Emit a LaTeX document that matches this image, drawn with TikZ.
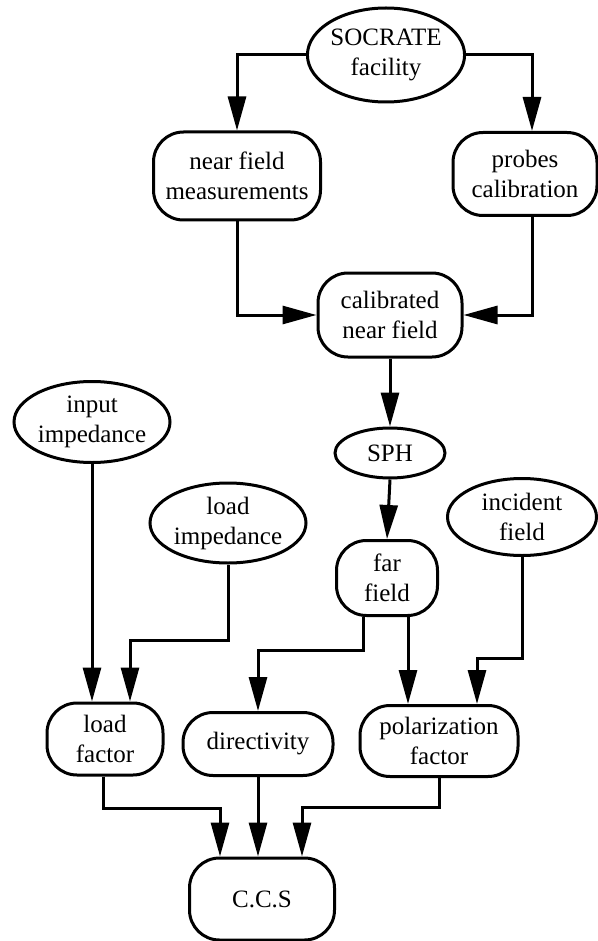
\documentclass[tikz,border=0pt]{standalone}
\usepackage{fontspec}
\newfontfamily\diagfont{LiberationSerif}[Extension=.ttf,UprightFont=*-Regular]
\usetikzlibrary{shapes.geometric,arrows.meta}

\begin{document}
\begin{tikzpicture}[x=0.5pt,y=-0.5pt,>={Triangle[length=17pt,width=9pt]}]

% --- Global TikZ Styles ---
\tikzset{
    ovalnode/.style={
        ellipse,
        draw=black,
        line width=1.5pt,
        inner sep=0pt,
        align=center,
        font=\diagfont\fontsize{12.5}{15}\selectfont
    },
    roundbox/.style={
        rectangle,
        draw=black,
        line width=1.5pt,
        rounded corners=15pt,
        inner sep=0pt,
        align=center,
        font=\diagfont\fontsize{12.5}{15}\selectfont
    },
    arrow/.style={
        ->,
        line width=1.5pt,
        draw=black
    }
}

\useasboundingbox (0,0) rectangle (598,941);

% ==================================================
% --- Measurement chain ---
% ==================================================

\node[ovalnode, minimum width=77.5pt, minimum height=47pt]
    (socrate) at (386,55) {SOCRATE\\facility};
\node[roundbox, minimum width=83.5pt, minimum height=44pt]
    (nearfield) at (237,176) {near field\\measurements};
\node[roundbox, minimum width=72pt, minimum height=41.5pt]
    (probes) at (525,174) {probes\\calibration};
\node[roundbox, minimum width=72pt, minimum height=42pt]
    (calibrated) at (390,315) {calibrated\\near field};
\node[ovalnode, minimum width=55pt, minimum height=25pt]
    (sph) at (390,453) {SPH};
\node[roundbox, minimum width=50.5pt, minimum height=37.5pt]
    (farfield) at (387,578) {far\\field};

% ==================================================
% --- Inputs ---
% ==================================================

\node[ovalnode, minimum width=78pt, minimum height=40.5pt]
    (input) at (92,422) {input\\impedance};
\node[ovalnode, minimum width=78pt, minimum height=40pt]
    (loadimp) at (228,523) {load\\impedance};
\node[ovalnode, minimum width=74.5pt, minimum height=38.5pt]
    (incident) at (522,517) {incident\\field};

% ==================================================
% --- Factors and result ---
% ==================================================

\node[roundbox, minimum width=58pt, minimum height=36pt]
    (loadfactor) at (105,739) {load\\factor};
\node[roundbox, minimum width=75pt, minimum height=31.5pt]
    (directivity) at (258,744) {directivity};
\node[roundbox, minimum width=79pt, minimum height=35.5pt]
    (polarization) at (439,741) {polarization\\factor};
\node[roundbox, minimum width=72.5pt, minimum height=41pt]
    (ccs) at (262,899) {C.C.S};

% Bends of the connectors
\coordinate (bendA) at (130,640);
\coordinate (bendB) at (258,650);
\coordinate (bendC) at (477,658);
\coordinate (bendD) at (220,808);
\coordinate (bendE) at (302,807);

% ==================================================
% --- Connectors ---
% ==================================================

\draw[arrow] (socrate.west) -| (nearfield.north);
\draw[arrow] (socrate.east) -| ([xshift=3.5pt]probes.north);
\draw[arrow] (nearfield.south) |- (calibrated.west);
\draw[arrow] ([xshift=3.5pt]probes.south) |- (calibrated.east);
\draw[arrow] (calibrated.south) -- (sph.north);
\draw[arrow] (sph.south) -- (farfield.north);

\draw[arrow] (input.south) -- (input.south |- loadfactor.north);
\draw[arrow] (loadimp.south) |- (bendA) -- (bendA |- loadfactor.north);
\draw[arrow] ([xshift=-12pt]farfield.south) |- (bendB) -- (directivity.north);
\draw[arrow] ([xshift=10.5pt]farfield.south)
    -- ([xshift=10.5pt]farfield.south |- polarization.north);
\draw[arrow] (incident.south) |- (bendC) -- (bendC |- polarization.north);

\draw[arrow] ([xshift=-1pt]loadfactor.south) |- (bendD) -- (bendD |- ccs.north);
\draw[arrow] (directivity.south) -- (directivity.south |- ccs.north);
\draw[arrow] (polarization.south) |- (bendE) -- (bendE |- ccs.north);

\end{tikzpicture}
\end{document}
